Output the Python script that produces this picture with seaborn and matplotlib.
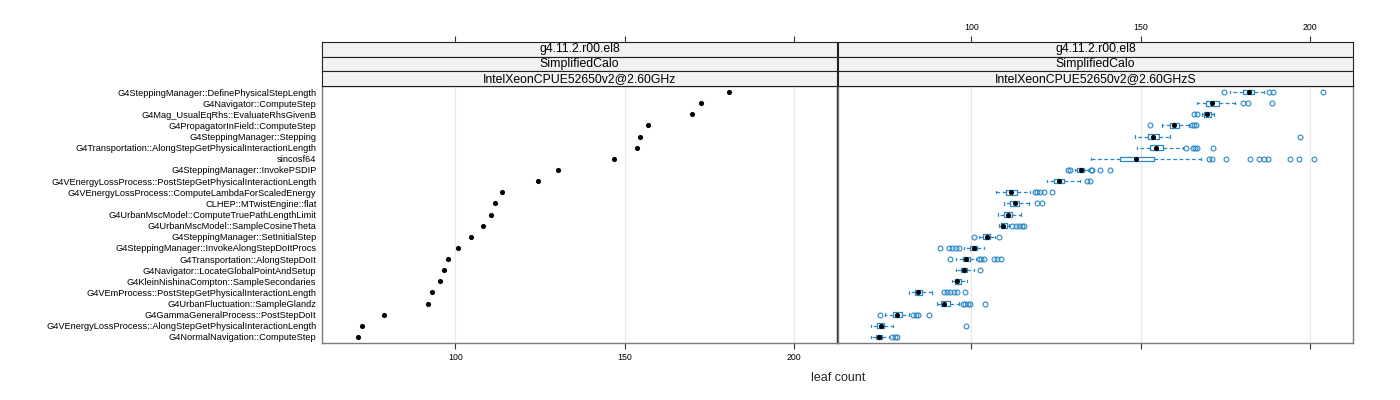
import matplotlib
matplotlib.use("Agg")
import matplotlib.pyplot as plt
import seaborn as sns
import pandas as pd

categories = [
    "G4SteppingManager::DefinePhysicalStepLength",
    "G4Navigator::ComputeStep",
    "G4Mag_UsualEqRhs::EvaluateRhsGivenB",
    "G4PropagatorInField::ComputeStep",
    "G4SteppingManager::Stepping",
    "G4Transportation::AlongStepGetPhysicalInteractionLength",
    "sincosf64",
    "G4SteppingManager::InvokePSDIP",
    "G4VEnergyLossProcess::PostStepGetPhysicalInteractionLength",
    "G4VEnergyLossProcess::ComputeLambdaForScaledEnergy",
    "CLHEP::MTwistEngine::flat",
    "G4UrbanMscModel::ComputeTruePathLengthLimit",
    "G4UrbanMscModel::SampleCosineTheta",
    "G4SteppingManager::SetInitialStep",
    "G4SteppingManager::InvokeAlongStepDoItProcs",
    "G4Transportation::AlongStepDoIt",
    "G4Navigator::LocateGlobalPointAndSetup",
    "G4KleinNishinaCompton::SampleSecondaries",
    "G4VEmProcess::PostStepGetPhysicalInteractionLength",
    "G4UrbanFluctuation::SampleGlandz",
    "G4GammaGeneralProcess::PostStepDoIt",
    "G4VEnergyLossProcess::AlongStepGetPhysicalInteractionLength",
    "G4NormalNavigation::ComputeStep",
]

# left panel: single leaf count per function
left_values = [180.6, 172.5, 169.8, 156.7, 154.5, 153.6, 146.9, 130.3, 124.3,
               113.8, 111.6, 110.4, 108.2, 104.7, 100.7, 97.9, 96.6, 95.4,
               93.2, 92.0, 78.8, 72.4, 71.1]

# right panel: box-and-whisker statistics per function
right_med = [181.8, 171.0, 169.5, 159.7, 153.6, 154.6, 148.5, 132.2, 125.8,
             111.7, 112.7, 110.7, 109.3, 104.6, 100.7, 98.3, 97.7, 95.8,
             84.3, 91.8, 78.1, 73.2, 72.7]
right_q1 = [180.1, 169.2, 168.5, 158.5, 152.0, 152.7, 143.7, 131.2, 124.3,
            110.3, 111.5, 109.7, 108.6, 103.4, 99.5, 97.5, 97.0, 95.1,
            83.2, 90.9, 76.9, 72.2, 71.7]
right_q3 = [183.3, 173.0, 170.7, 161.3, 155.3, 156.6, 154.0, 133.1, 127.4,
            113.5, 114.0, 112.0, 110.5, 105.6, 101.7, 99.5, 98.7, 96.8,
            85.5, 93.6, 79.6, 74.3, 73.7]
right_whislo = [176.2, 166.6, 168.0, 156.3, 148.2, 148.9, 135.3, 130.5, 122.3,
                107.3, 109.5, 107.9, 108.1, 102.2, 97.9, 95.5, 95.5, 94.3,
                81.7, 89.9, 74.6, 70.4, 70.2]
right_whishi = [186.2, 177.9, 171.7, 164.1, 158.7, 162.4, 167.6, 134.5, 131.9,
                117.2, 116.9, 114.7, 111.0, 106.8, 103.6, 101.2, 100.7, 98.7,
                88.4, 96.3, 81.5, 76.9, 75.6]
right_fliers = [
    [174.6, 187.7, 189.0, 203.6],
    [180.1, 181.5, 188.8],
    [165.8, 166.6],
    [152.8, 165.1, 165.8, 166.4],
    [197.1],
    [163.3, 165.4, 166.0, 166.7, 171.2],
    [170.0, 171.0, 175.2, 182.3, 185.0, 186.2, 187.4, 193.9, 196.7, 201.0],
    [128.5, 129.0, 135.3, 135.7, 137.8, 140.8],
    [134.1, 134.9],
    [118.6, 119.4, 120.2, 121.3, 123.8],
    [119.2, 120.9],
    [],
    [112.0, 113.0, 114.0, 115.0, 115.4],
    [100.7, 108.1],
    [90.6, 93.3, 94.3, 95.3, 96.3],
    [93.6, 102.2, 102.9, 103.6, 106.6, 107.6, 108.8],
    [102.5],
    [],
    [92.0, 92.8, 93.8, 94.8, 95.8, 98.0],
    [97.5, 98.2, 98.9, 99.7, 104.1],
    [72.9, 82.8, 83.5, 84.2, 87.6],
    [98.5],
    [76.6, 77.3, 77.9],
]

strip_left = ["g4.11.2.r00.el8", "SimplifiedCalo", "IntelXeonCPUE52650v2@2.60GHz"]
strip_right = ["g4.11.2.r00.el8", "SimplifiedCalo", "IntelXeonCPUE52650v2@2.60GHzS"]
x_ticks = [100, 150, 200]
x_label = "leaf count"

sns.set_theme(style="white")
plt.rcParams["font.family"] = ["Liberation Sans", "DejaVu Sans"]

W, H = 1400, 400
fig = plt.figure(figsize=(14, 4), dpi=100)
fig.patch.set_facecolor("white")

panel_top, panel_bot = 86, 343
strip_top = 42
strip_h = (panel_top - strip_top) / 3.0
lefts = [322, 838]
pw = 515
xlim = (60.6, 212.6)
blue = "#2a88c6"
tick_col = "#333333"
n = len(categories)

ax0 = fig.add_axes([lefts[0] / W, 1 - panel_bot / H, pw / W, (panel_bot - panel_top) / H])
ax1 = fig.add_axes([lefts[1] / W, 1 - panel_bot / H, pw / W, (panel_bot - panel_top) / H], sharey=ax0)

# left panel dots
df_left = pd.DataFrame({"fn": categories, "v": left_values})
sns.stripplot(data=df_left, x="v", y="fn", order=categories, jitter=False,
              color="black", size=3.7, linewidth=0, ax=ax0, zorder=3)

# right panel boxes
stats = []
for i in range(n):
    stats.append(dict(med=right_med[i], q1=right_q1[i], q3=right_q3[i],
                      whislo=right_whislo[i], whishi=right_whishi[i],
                      fliers=right_fliers[i]))
ax1.bxp(stats, positions=list(range(n)), widths=0.42, manage_ticks=False,
        orientation="horizontal", showfliers=True, capwidths=0.22,
        boxprops=dict(color=blue, linewidth=0.9),
        whiskerprops=dict(color=blue, linewidth=0.9, linestyle=(0, (3, 2))),
        capprops=dict(color=blue, linewidth=0.9),
        medianprops=dict(linewidth=0),
        flierprops=dict(marker="o", markerfacecolor="none", markeredgecolor=blue,
                        markersize=3.5, markeredgewidth=0.8))
df_right = pd.DataFrame({"fn": categories, "v": right_med})
sns.stripplot(data=df_right, x="v", y="fn", order=categories, jitter=False,
              color="black", size=3.7, linewidth=0, ax=ax1, zorder=4)

ax0.set_yticks(list(range(n)))
ax0.set_yticklabels(categories)

for ax in (ax0, ax1):
    ax.set_xlim(*xlim)
    ax.set_ylim(n - 0.45, -0.55)
    ax.set_xticks(x_ticks)
    ax.set_xlabel("")
    ax.set_ylabel("")
    ax.grid(True, axis="x", color="#e8e8e8", linewidth=0.8)
    ax.grid(False, axis="y")
    ax.set_axisbelow(True)
    for s in ax.spines.values():
        s.set_color("#7a7a7a")
        s.set_linewidth(1.0)
    ax.tick_params(axis="x", direction="out", length=4, width=0.8, colors=tick_col,
                   labelcolor="black", labelsize=6.3, pad=3, bottom=True, top=False)
    ax.tick_params(axis="y", length=0, pad=4, labelsize=6.7, labelcolor="black")

ax0.tick_params(axis="x", labelbottom=True)
ax1.tick_params(axis="x", labelbottom=False)
ax1.tick_params(axis="y", labelleft=False)
ax0.spines["right"].set_color("#222222")

# strips
for pi, (panel_ax, labels) in enumerate(((ax0, strip_left), (ax1, strip_right))):
    for j, lab in enumerate(labels):
        top = strip_top + j * strip_h
        sax = fig.add_axes([lefts[pi] / W, 1 - (top + strip_h) / H, pw / W, strip_h / H],
                           sharex=panel_ax)
        sax.set_facecolor("#f2f2f2")
        sax.set_yticks([])
        for s in sax.spines.values():
            s.set_color("#222222")
            s.set_linewidth(0.8)
        sax.grid(False)
        sax.text(0.5, 0.5, lab, transform=sax.transAxes, ha="center", va="center",
                 fontsize=8.8, color="black")
        sax.tick_params(axis="x", bottom=False, labelbottom=False,
                        top=(j == 0), labeltop=(j == 0 and pi == 1),
                        direction="out", length=4, width=0.8, colors=tick_col,
                        labelcolor="black", labelsize=6.3, pad=3)

fig.text(838 / W, 1 - 378 / H, x_label, ha="center", va="center", fontsize=9)

fig.savefig("out.png", dpi=100, facecolor="white")
